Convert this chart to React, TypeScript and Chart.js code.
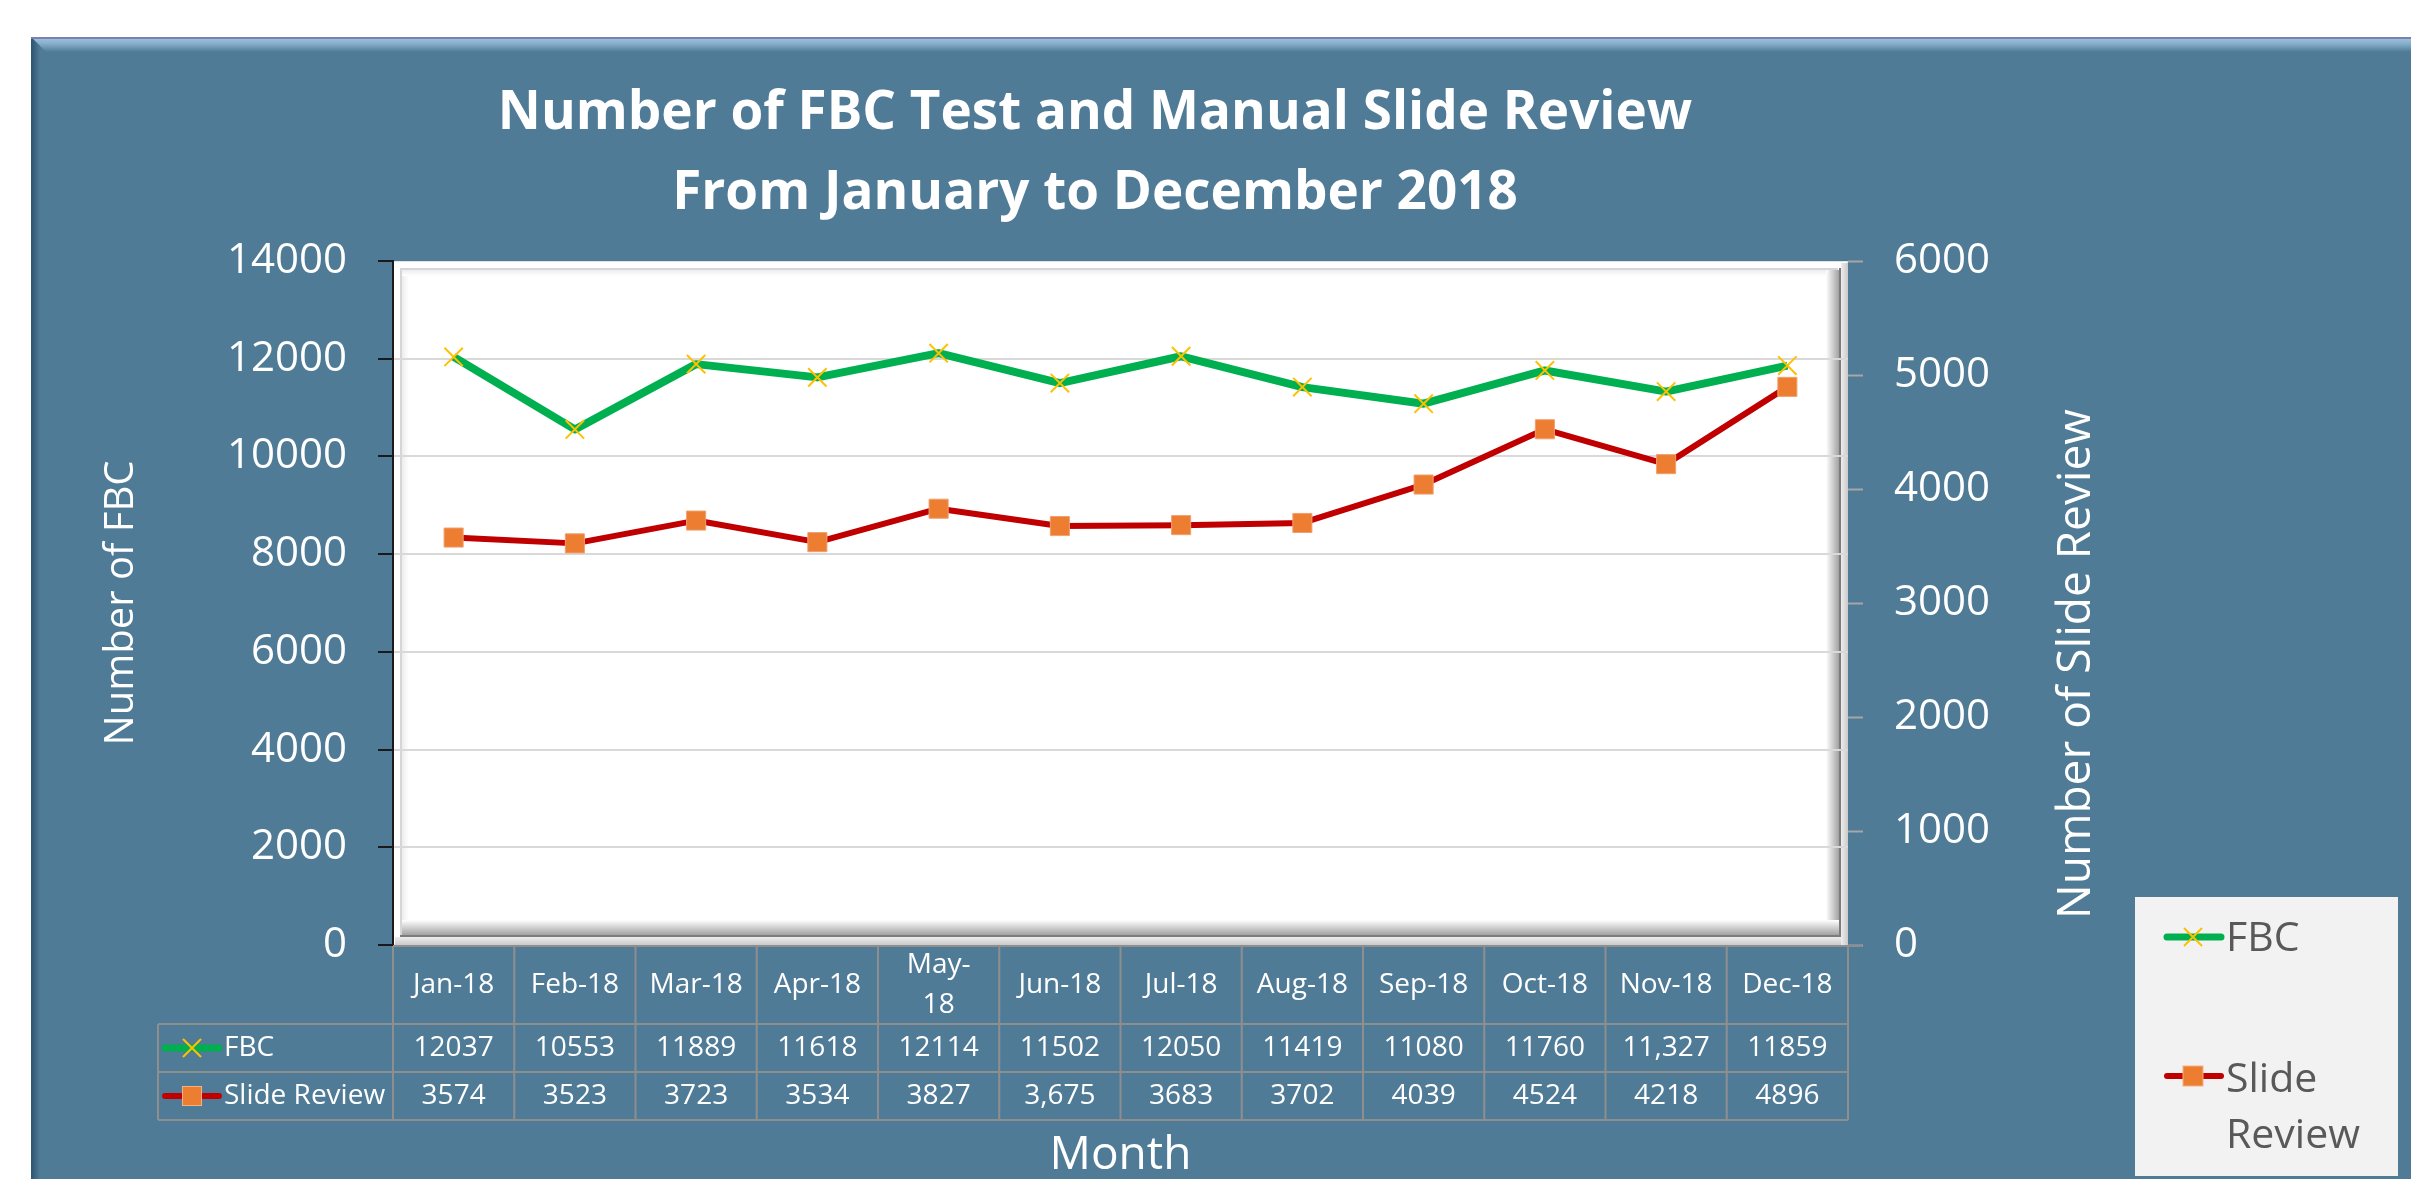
import React, { useEffect, useRef } from 'react';
import { Chart, registerables } from 'chart.js';

Chart.register(...registerables);

// ---------------- data ----------------
const categories = ['Jan-18', 'Feb-18', 'Mar-18', 'Apr-18', 'May-18', 'Jun-18', 'Jul-18', 'Aug-18', 'Sep-18', 'Oct-18', 'Nov-18', 'Dec-18'];
const headerLabels: (string | string[])[] = ['Jan-18', 'Feb-18', 'Mar-18', 'Apr-18', ['May-', '18'], 'Jun-18', 'Jul-18', 'Aug-18', 'Sep-18', 'Oct-18', 'Nov-18', 'Dec-18'];
const fbcValues = [12037, 10553, 11889, 11618, 12114, 11502, 12050, 11419, 11080, 11760, 11327, 11859];
const slideValues = [3574, 3523, 3723, 3534, 3827, 3675, 3683, 3702, 4039, 4524, 4218, 4896];
const fbcTableText = ['12037', '10553', '11889', '11618', '12114', '11502', '12050', '11419', '11080', '11760', '11,327', '11859'];
const slideTableText = ['3574', '3523', '3723', '3534', '3827', '3,675', '3683', '3702', '4039', '4524', '4218', '4896'];
const seriesNames = ['FBC', 'Slide Review'];
const legendLines = [['FBC'], ['Slide', 'Review']];
const titleLines = ['Number of FBC Test and Manual Slide Review', 'From January to December 2018'];
const leftAxisTitle = 'Number of FBC';
const rightAxisTitle = 'Number of Slide Review';
const xAxisTitle = 'Month';
const leftAxisRange = [0, 14000];
const leftAxisStep = 2000;
const rightAxisRange = [0, 6000];
const rightAxisStep = 1000;

// ---------------- styles ----------------
const FONT = "'Open Sans', sans-serif";
const BG = '#4F7B97';
const GREEN = '#00B050';
const GOLD = '#FFC000';
const RED = '#C00000';
const ORANGE = '#ED7D31';
const TABLE_LINE = '#8E8E8E';

function drawCross(ctx: CanvasRenderingContext2D, x: number, y: number, half: number) {
  ctx.save();
  ctx.strokeStyle = GOLD;
  ctx.lineWidth = 2;
  ctx.beginPath();
  ctx.moveTo(x - half, y - half);
  ctx.lineTo(x + half, y + half);
  ctx.moveTo(x - half, y + half);
  ctx.lineTo(x + half, y - half);
  ctx.stroke();
  ctx.restore();
}

function drawKeyLine(ctx: CanvasRenderingContext2D, x0: number, x1: number, y: number, color: string, w: number) {
  ctx.save();
  ctx.strokeStyle = color;
  ctx.lineWidth = w;
  ctx.lineCap = 'round';
  ctx.beginPath();
  ctx.moveTo(x0, y);
  ctx.lineTo(x1, y);
  ctx.stroke();
  ctx.restore();
}

function drawSquare(ctx: CanvasRenderingContext2D, x: number, y: number, size: number) {
  ctx.save();
  ctx.fillStyle = ORANGE;
  ctx.fillRect(x - size / 2, y - size / 2, size, size);
  ctx.strokeStyle = '#F4B183';
  ctx.lineWidth = 1;
  ctx.strokeRect(x - size / 2, y - size / 2, size, size);
  ctx.restore();
}

const backgroundPlugin = {
  id: 'bgPanel',
  beforeDraw(chart: any) {
    const { ctx, width: W, height: H, chartArea } = chart;
    ctx.save();
    ctx.fillStyle = '#FFFFFF';
    ctx.fillRect(0, 0, W, H);
    const bx = 31, by = 37;
    ctx.fillStyle = BG;
    ctx.fillRect(bx, by, W - bx, H - by);
    // top bevel
    let g = ctx.createLinearGradient(0, by, 0, by + 15);
    g.addColorStop(0, '#A3C5DD');
    g.addColorStop(0.45, '#86AECB');
    g.addColorStop(1, BG);
    ctx.fillStyle = g;
    ctx.beginPath();
    ctx.moveTo(bx, by);
    ctx.lineTo(W, by);
    ctx.lineTo(W, by + 15);
    ctx.lineTo(bx + 15, by + 15);
    ctx.closePath();
    ctx.fill();
    // left bevel
    g = ctx.createLinearGradient(bx, 0, bx + 9, 0);
    g.addColorStop(0, '#2E546E');
    g.addColorStop(1, BG);
    ctx.fillStyle = g;
    ctx.beginPath();
    ctx.moveTo(bx, by);
    ctx.lineTo(bx + 9, by + 9);
    ctx.lineTo(bx + 9, H);
    ctx.lineTo(bx, H);
    ctx.closePath();
    ctx.fill();
    ctx.fillStyle = '#7A80B4';
    ctx.fillRect(bx, by, W - bx, 2);

    // plot area with bevelled frame
    const { left: l, top: t, right: r, bottom: b } = chartArea;
    ctx.fillStyle = '#FFFFFF';
    ctx.fillRect(l, t, r - l, b - t);
    ctx.strokeStyle = '#E2E2E2';
    ctx.lineWidth = 1;
    ctx.strokeRect(l + 0.5, t + 0.5, r - l - 1, b - t - 1);
    // inner light line top/left
    ctx.fillStyle = '#D6D6D6';
    ctx.fillRect(l + 7, t + 7, 2, b - t - 17);
    ctx.fillRect(l + 7, t + 7, r - l - 17, 2);
    g = ctx.createLinearGradient(l + 9, 0, l + 16, 0);
    g.addColorStop(0, '#EDEDED');
    g.addColorStop(1, '#FFFFFF');
    ctx.fillStyle = g;
    ctx.fillRect(l + 9, t + 9, 7, b - t - 19);
    g = ctx.createLinearGradient(0, t + 9, 0, t + 15);
    g.addColorStop(0, '#EDEDED');
    g.addColorStop(1, '#FFFFFF');
    ctx.fillStyle = g;
    ctx.fillRect(l + 9, t + 9, r - l - 19, 6);
    // right shading
    g = ctx.createLinearGradient(r - 22, 0, r - 9, 0);
    g.addColorStop(0, '#FFFFFF');
    g.addColorStop(1, '#A2A2A2');
    ctx.fillStyle = g;
    ctx.fillRect(r - 22, t + 9, 13, b - t - 18);
    // bottom shading
    g = ctx.createLinearGradient(0, b - 25, 0, b - 10);
    g.addColorStop(0, '#FFFFFF');
    g.addColorStop(1, '#A2A2A2');
    ctx.fillStyle = g;
    ctx.fillRect(l + 9, b - 25, r - l - 18, 15);
    // dark edges
    ctx.fillStyle = '#7C7C7C';
    ctx.fillRect(r - 9, t + 7, 2, b - t - 15);
    ctx.fillRect(l + 7, b - 10, r - l - 14, 2);
    // outer rim right / bottom
    g = ctx.createLinearGradient(r - 7, 0, r, 0);
    g.addColorStop(0, '#EDEDED');
    g.addColorStop(1, '#C9C9C9');
    ctx.fillStyle = g;
    ctx.fillRect(r - 7, t + 2, 7, b - t - 2);
    g = ctx.createLinearGradient(0, b - 8, 0, b);
    g.addColorStop(0, '#EDEDED');
    g.addColorStop(1, '#C9C9C9');
    ctx.fillStyle = g;
    ctx.fillRect(l + 2, b - 8, r - l - 9, 8);
    ctx.restore();
  },
};

const tablePlugin = {
  id: 'dataTable',
  afterDraw(chart: any) {
    const { ctx, chartArea } = chart;
    const xs = chart.scales.x;
    const step = xs.getPixelForValue(1) - xs.getPixelForValue(0);
    const x0 = xs.getPixelForValue(0) - step / 2;
    const n = categories.length;
    const xEnd = x0 + n * step;
    const top = chartArea.bottom + 1;
    const rowTop1 = 1024;
    const rowTop2 = 1072;
    const rowBottom = 1120;
    const keyLeft = 158;
    ctx.save();
    ctx.strokeStyle = TABLE_LINE;
    ctx.lineWidth = 2;
    ctx.beginPath();
    ctx.moveTo(x0, top); ctx.lineTo(xEnd + 14, top);
    [rowTop1, rowTop2, rowBottom].forEach((y) => { ctx.moveTo(keyLeft, y); ctx.lineTo(xEnd, y); });
    for (let i = 0; i <= n; i++) {
      const x = x0 + i * step;
      ctx.moveTo(x, top); ctx.lineTo(x, rowBottom);
    }
    ctx.moveTo(keyLeft, rowTop1); ctx.lineTo(keyLeft, rowBottom);
    ctx.stroke();

    ctx.fillStyle = '#FFFFFF';
    ctx.font = `28px ${FONT}`;
    ctx.textAlign = 'center';
    ctx.textBaseline = 'middle';
    const y1 = (rowTop1 + rowTop2) / 2;
    const y2 = (rowTop2 + rowBottom) / 2;
    for (let i = 0; i < n; i++) {
      const cx = xs.getPixelForValue(i);
      ctx.fillText(fbcTableText[i], cx, y1);
      ctx.fillText(slideTableText[i], cx, y2);
    }
    // keys
    drawKeyLine(ctx, 165, 219, y1, GREEN, 7);
    drawCross(ctx, 192, y1, 9);
    drawKeyLine(ctx, 165, 219, y2, RED, 6);
    drawSquare(ctx, 192, y2, 19);
    ctx.fillStyle = '#FFFFFF';
    ctx.textAlign = 'left';
    ctx.fillText(seriesNames[0], 224, y1);
    ctx.fillText(seriesNames[1], 224, y2);
    ctx.restore();
  },
};

const extrasPlugin = {
  id: 'extras',
  afterDraw(chart: any) {
    const { ctx, chartArea } = chart;
    ctx.save();
    // right axis title (reads bottom-to-top)
    ctx.translate(2077, (chartArea.top + chartArea.bottom) / 2 + 61);
    ctx.rotate(-Math.PI / 2);
    ctx.fillStyle = '#FFFFFF';
    ctx.font = `46px ${FONT}`;
    ctx.textAlign = 'center';
    ctx.textBaseline = 'middle';
    ctx.fillText(rightAxisTitle, 0, 0);
    ctx.restore();

    // legend box
    ctx.save();
    ctx.fillStyle = '#F2F2F2';
    ctx.fillRect(2135, 897, 263, 279);
    drawKeyLine(ctx, 2167, 2221, 937, GREEN, 7);
    drawCross(ctx, 2193, 937, 9);
    drawKeyLine(ctx, 2167, 2221, 1076, RED, 6);
    drawSquare(ctx, 2193, 1076, 20);
    ctx.fillStyle = '#595959';
    ctx.font = `41px ${FONT}`;
    ctx.textAlign = 'left';
    ctx.textBaseline = 'alphabetic';
    ctx.fillText(legendLines[0][0], 2226, 951);
    ctx.fillText(legendLines[1][0], 2226, 1092);
    ctx.fillText(legendLines[1][1], 2226, 1148);
    ctx.restore();
  },
};

export default function App() {
  const canvasRef = useRef<HTMLCanvasElement | null>(null);

  useEffect(() => {
    const canvas = canvasRef.current;
    if (!canvas) return;
    const chart = new Chart(canvas, {
      type: 'line',
      data: {
        labels: categories,
        datasets: [
          {
            label: seriesNames[0],
            data: fbcValues,
            yAxisID: 'y',
            borderColor: GREEN,
            backgroundColor: GREEN,
            borderWidth: 8,
            borderJoinStyle: 'round',
            pointStyle: 'crossRot',
            pointRadius: 13,
            pointHoverRadius: 13,
            pointBorderColor: GOLD,
            pointBackgroundColor: GOLD,
            pointBorderWidth: 2,
            tension: 0,
            order: 1,
          },
          {
            label: seriesNames[1],
            data: slideValues,
            yAxisID: 'y1',
            borderColor: RED,
            backgroundColor: ORANGE,
            borderWidth: 6,
            borderJoinStyle: 'round',
            pointStyle: 'rect',
            pointRadius: 13.5,
            pointHoverRadius: 13.5,
            pointBorderColor: '#F0A070',
            pointBackgroundColor: ORANGE,
            pointBorderWidth: 1,
            tension: 0,
            order: 2,
          },
        ],
      },
      options: {
        responsive: false,
        animation: false,
        devicePixelRatio: 1,
        events: [],
        layout: { padding: { left: 31, right: 252, top: 37, bottom: 0 } },
        plugins: {
          legend: { display: false },
          tooltip: { enabled: false },
          title: {
            display: true,
            text: titleLines,
            color: '#FFFFFF',
            font: { family: FONT, size: 53, weight: 'bold', lineHeight: 80 / 53 },
            padding: { top: 37, bottom: 27 },
          },
        },
        scales: {
          x: {
            type: 'category',
            offset: true,
            grid: { display: false },
            border: { display: false },
            ticks: {
              color: '#FFFFFF',
              font: { family: FONT, size: 28, lineHeight: 40 / 28 },
              padding: 12,
              maxRotation: 0,
              minRotation: 0,
              autoSkip: false,
              crossAlign: 'center',
              callback: (_v: any, i: number) => headerLabels[i],
            },
            title: {
              display: true,
              text: xAxisTitle,
              color: '#FFFFFF',
              font: { family: FONT, size: 46, lineHeight: 1 },
              padding: { top: 0, bottom: 0 },
            },
            afterFit: (s: any) => { s.height = 234; },
          },
          y: {
            position: 'left',
            min: leftAxisRange[0],
            max: leftAxisRange[1],
            ticks: {
              stepSize: leftAxisStep,
              color: '#FFFFFF',
              font: { family: FONT, size: 42 },
              padding: 31,
              callback: (v: any) => String(v),
            },
            grid: {
              color: (c: any) => (c.tick && (c.tick.value === leftAxisRange[0] || c.tick.value === leftAxisRange[1]) ? 'rgba(0,0,0,0)' : '#D9D9D9'),
              lineWidth: 2,
              tickLength: 15,
              tickColor: '#1A1A1A',
              tickWidth: 2,
            },
            border: { display: true, color: '#1A1A1A', width: 2 },
            title: {
              display: true,
              text: leftAxisTitle,
              color: '#FFFFFF',
              font: { family: FONT, size: 40 },
              padding: { top: 67, bottom: 0 },
            },
            afterFit: (s: any) => { s.width = 362; },
          },
          y1: {
            position: 'right',
            min: rightAxisRange[0],
            max: rightAxisRange[1],
            ticks: {
              stepSize: rightAxisStep,
              color: '#FFFFFF',
              font: { family: FONT, size: 42 },
              padding: 31,
              callback: (v: any) => String(v),
            },
            grid: {
              drawOnChartArea: false,
              tickLength: 15,
              tickColor: '#A6A6A6',
              tickWidth: 2,
            },
            border: { display: false },
            afterFit: (s: any) => { s.width = 311; },
          },
        },
      },
      plugins: [backgroundPlugin, tablePlugin, extrasPlugin],
    } as any);
    return () => chart.destroy();
  }, []);

  return (
    <div style={{ position: 'fixed', left: 0, top: 0, width: 2411, height: 1179, background: '#FFFFFF' }}>
      <canvas ref={canvasRef} width={2411} height={1179} style={{ width: 2411, height: 1179, display: 'block' }} />
    </div>
  );
}
